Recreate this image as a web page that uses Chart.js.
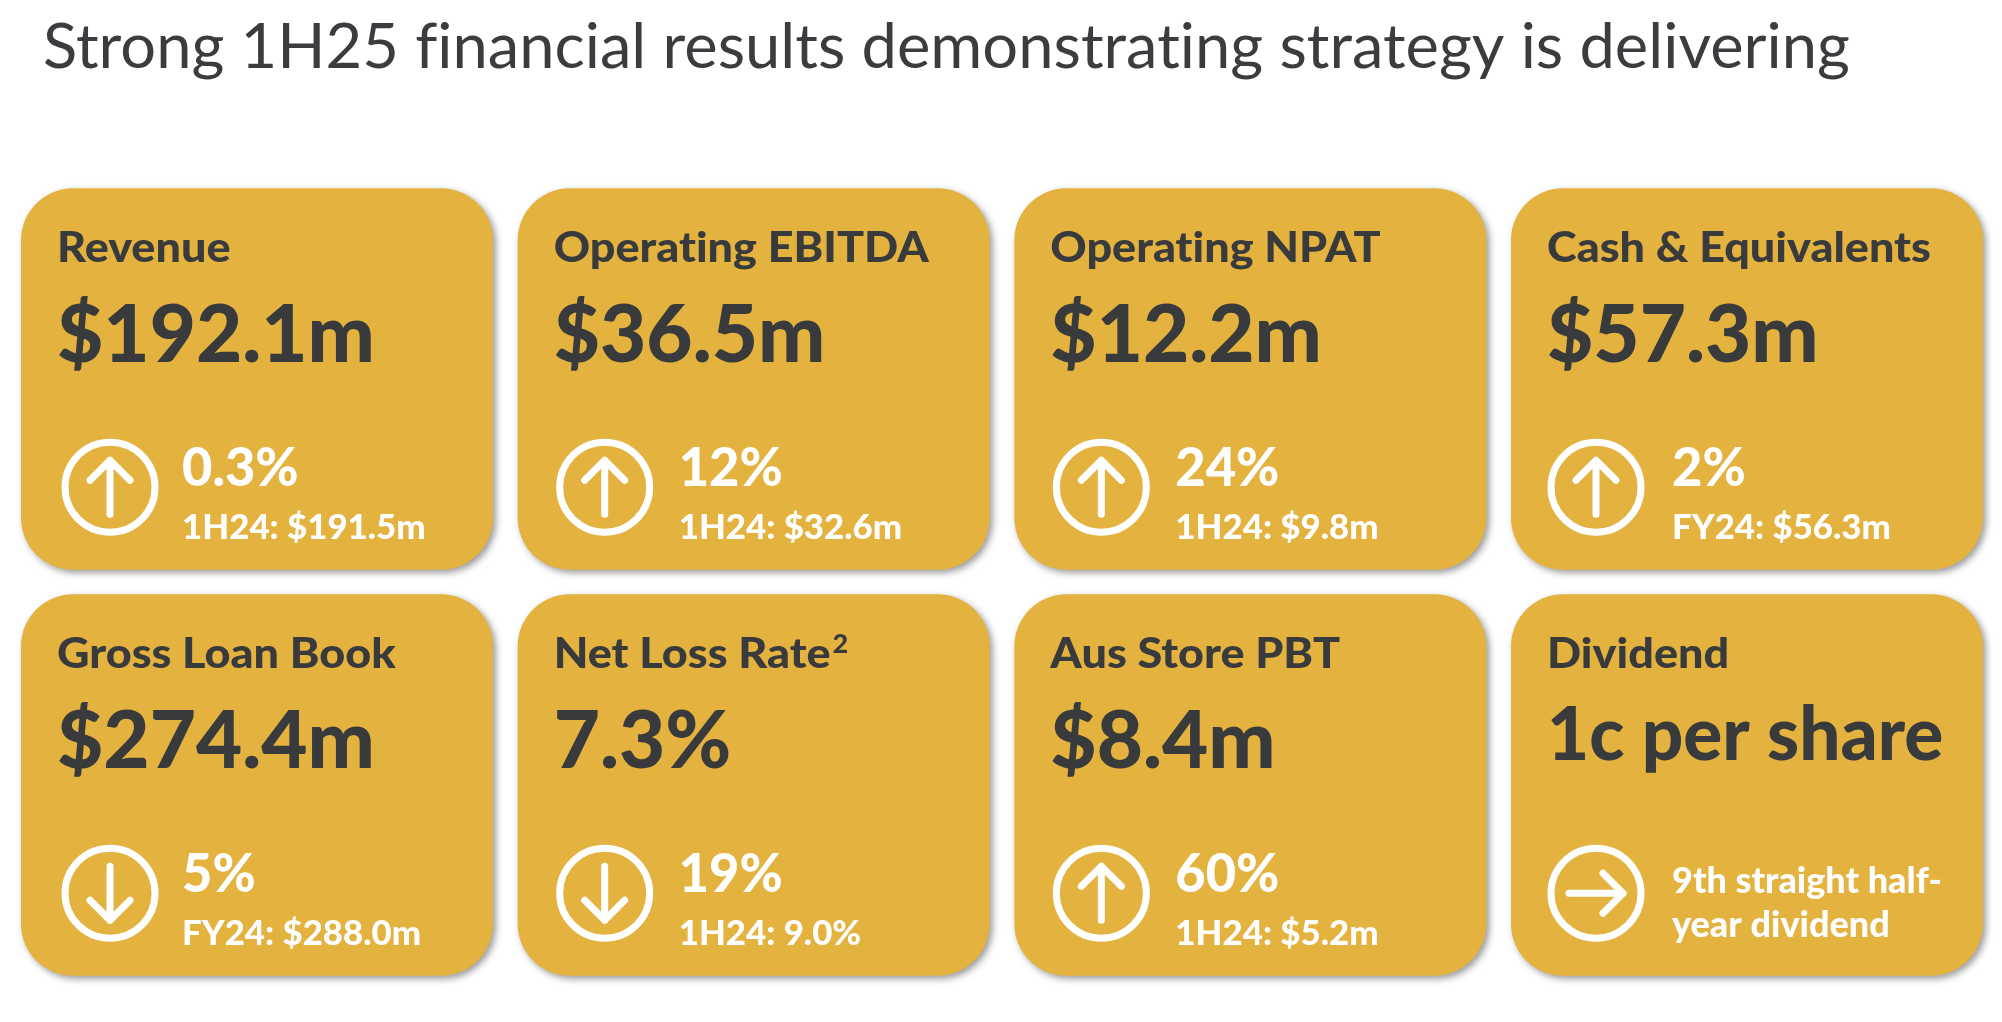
<!DOCTYPE html>
<html>
<head>
<meta charset="utf-8">
<title>Strong 1H25 financial results</title>
<style>
  html, body { margin: 0; padding: 0; background: #fff; }
  canvas { display: block; }
</style>
<script src="https://cdn.jsdelivr.net/npm/chart.js@4"></script>
</head>
<body>
<canvas id="kpiChart" width="2002" height="1022"></canvas>
<script>
const chartTitle = "Strong 1H25 financial results demonstrating strategy is delivering";

// Top row of cards
const metricsTop = ["Revenue", "Operating EBITDA", "Operating NPAT", "Cash & Equivalents"];
const valuesTop = ["$192.1m", "$36.5m", "$12.2m", "$57.3m"];
const changesTop = ["0.3%", "12%", "24%", "2%"];
const comparesTop = ["1H24: $191.5m", "1H24: $32.6m", "1H24: $9.8m", "FY24: $56.3m"];
const directionsTop = ["up", "up", "up", "up"];
const notesTop = ["", "", "", ""];

// Bottom row of cards
const metricsBottom = ["Gross Loan Book", "Net Loss Rate", "Aus Store PBT", "Dividend"];
const valuesBottom = ["$274.4m", "7.3%", "$8.4m", "1c per share"];
const changesBottom = ["5%", "19%", "60%", ""];
const comparesBottom = ["FY24: $288.0m", "1H24: 9.0%", "1H24: $5.2m", ""];
const directionsBottom = ["down", "down", "up", "right"];
const notesBottom = ["", "2", "", ""];
const dividendNote = ["9th straight half-", "year dividend"];

const columns = ["Col 1", "Col 2", "Col 3", "Col 4"];

const GOLD = "#e3b23f";
const DARK = "#383a3c";
const WHITE = "#ffffff";
const FONT = "Lato, sans-serif";

// Lato's proportions differ from the original face, so each style gets its own squeeze
function drawText(ctx, text, x, y, font, color, squeeze) {
  ctx.save();
  ctx.font = font + " " + FONT;
  ctx.fillStyle = color;
  ctx.textAlign = "left";
  ctx.textBaseline = "alphabetic";
  ctx.letterSpacing = "0.01px"; // turns off the fi/ti ligatures
  ctx.translate(x, y);
  ctx.scale(squeeze, 1);
  ctx.fillText(text, 0, 0);
  const width = ctx.measureText(text).width * squeeze;
  ctx.restore();
  return width;
}

function drawIcon(ctx, cx, cy, direction) {
  ctx.save();
  ctx.strokeStyle = WHITE;
  ctx.lineWidth = 7;
  ctx.lineCap = "round";
  ctx.lineJoin = "round";
  ctx.beginPath();
  ctx.arc(cx, cy, 45, 0, Math.PI * 2);
  ctx.stroke();

  ctx.translate(cx, cy);
  if (direction === "down") ctx.rotate(Math.PI);
  if (direction === "right") ctx.rotate(Math.PI / 2);
  ctx.beginPath();
  ctx.moveTo(0, 27);
  ctx.lineTo(0, -27);
  ctx.moveTo(-20, -7);
  ctx.lineTo(0, -27);
  ctx.lineTo(20, -7);
  ctx.stroke();
  ctx.restore();
}

const iconOffsets = [89, 87, 87, 85];

const cardPlugin = {
  id: "cardPlugin",
  beforeDatasetsDraw(chart) {
    const ctx = chart.ctx;
    ctx.save();
    ctx.shadowColor = "rgba(0,0,0,0.4)";
    ctx.shadowBlur = 7;
    ctx.shadowOffsetX = 3;
    ctx.shadowOffsetY = 3;
  },
  afterDatasetsDraw(chart) {
    const ctx = chart.ctx;
    ctx.restore();

    drawText(ctx, chartTitle, 43, 68, "400 62px", "#3a3c3f", 1.02);

    const rows = [
      [metricsTop, valuesTop, changesTop, comparesTop, directionsTop, notesTop],
      [metricsBottom, valuesBottom, changesBottom, comparesBottom, directionsBottom, notesBottom],
    ];
    rows.forEach((row, r) => {
      const bars = chart.getDatasetMeta(r).data;
      bars.forEach((bar, i) => {
        const left = bar.x - bar.width / 2;
        const top = Math.min(bar.y, bar.base);
        const labelWidth = drawText(ctx, row[0][i], left + 36, top + 74, "900 42px", DARK, 1.07);
        if (row[5][i]) {
          drawText(ctx, row[5][i], left + 36 + labelWidth + 2, top + 59, "900 27px", DARK, 1);
        }
        const isDividend = row[2][i] === "";
        if (isDividend) {
          drawText(ctx, row[1][i], left + 36, top + 166, "900 74px", DARK, 0.983);
          drawText(ctx, dividendNote[0], left + 161, top + 299, "900 36px", WHITE, 1.0);
          drawText(ctx, dividendNote[1], left + 161, top + 343, "900 36px", WHITE, 1.0);
        } else {
          drawText(ctx, row[1][i], left + 36, top + 174, "900 80px", DARK, 0.998);
          drawText(ctx, row[2][i], left + 161, top + 298, "900 54px", WHITE, 0.97);
          drawText(ctx, row[3][i], left + 161, top + 351, "900 35px", WHITE, 0.995);
        }
        drawIcon(ctx, left + iconOffsets[i], top + 299, row[4][i]);
      });
    });
  },
};

// Each row takes one unit of the hidden y axis, cards fill most of it
const ROW_GAP = 0.03;
const rowBand = row => columns.map(() => [row + ROW_GAP, row + 1 - ROW_GAP]);

new Chart(document.getElementById("kpiChart"), {
  type: "bar",
  data: {
    labels: columns,
    datasets: [
      { label: "Top row", data: rowBand(1), backgroundColor: GOLD, borderRadius: 52, borderSkipped: false, grouped: false, barPercentage: 1, categoryPercentage: 0.9503 },
      { label: "Bottom row", data: rowBand(0), backgroundColor: GOLD, borderRadius: 52, borderSkipped: false, grouped: false, barPercentage: 1, categoryPercentage: 0.9503 },
    ],
  },
  options: {
    responsive: false,
    animation: false,
    devicePixelRatio: 1,
    layout: { padding: { left: 8.67, right: 6.67, top: 176, bottom: 34 } },
    plugins: { legend: { display: false }, tooltip: { enabled: false } },
    scales: {
      x: { display: false },
      y: { display: false, min: 0, max: 2 },
    },
  },
  plugins: [cardPlugin],
});
</script>
</body>
</html>
